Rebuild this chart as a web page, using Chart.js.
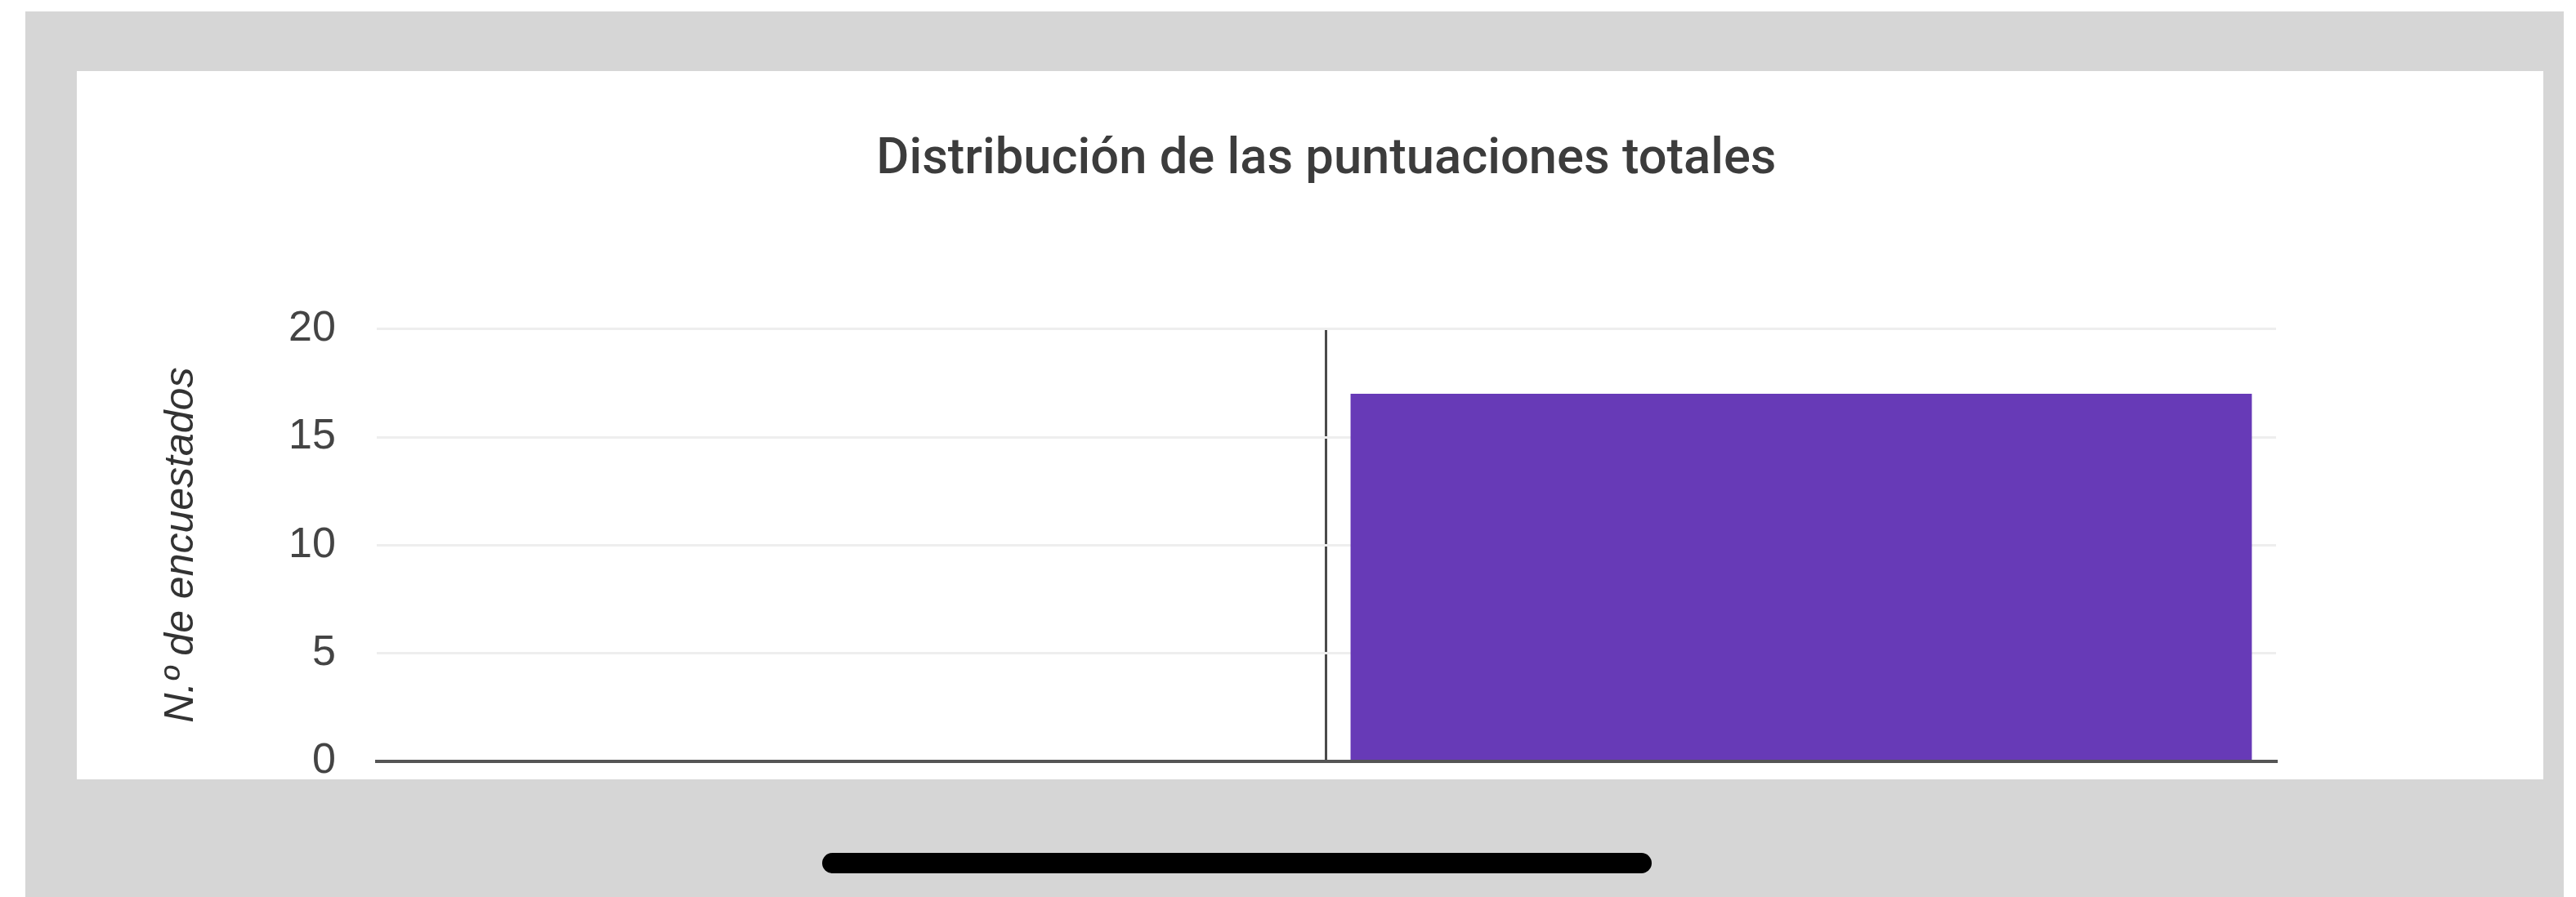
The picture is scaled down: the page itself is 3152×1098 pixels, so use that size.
<!DOCTYPE html>
<html>
<head>
<meta charset="utf-8">
<script src="https://cdn.jsdelivr.net/npm/chart.js@4/dist/chart.umd.min.js"></script>
<style>
    body { margin: 0; width: 3152px; height: 1098px; background: #ffffff; overflow: hidden; position: relative; }
    .frame { position: absolute; left: 31px; top: 14px; width: 3106px; height: 1084px; background: #d6d6d6; }
    .card { position: absolute; left: 94px; top: 87px; width: 3018px; height: 867px; background: #ffffff; }
    /* canvas runs a little past the card so the axis sits near the card's bottom edge */
    #chart { position: absolute; left: 0; top: 0; }
    .home-bar { position: absolute; left: 1006px; top: 1044px; width: 1015px; height: 25px; border-radius: 13px; background: #000000; }
</style>
</head>
<body>
<div class="frame"></div>
<div class="card"><canvas id="chart" width="3018" height="918"></canvas></div>
<div class="home-bar"></div>
<script>
// bins of the histogram (the x labels are not visible in the screenshot)
const bins = ["Intervalo 1", "Intervalo 2"];
const respondents = [0, 17];
const yTicks = [0, 5, 10, 15, 20];

const chartTitle = "Distribución de las puntuaciones totales";
const yTitle = "N.º de encuestados";

var ctx = document.getElementById("chart").getContext("2d");
var myChart = new Chart(ctx, {
    type: "bar",
    data: {
        labels: bins,
        datasets: [
            {
                label: yTitle,
                data: respondents,
                backgroundColor: "#673ab7",
                borderWidth: 0,
                barPercentage: 0.949,
                categoryPercentage: 1,
            },
        ],
    },
    options: {
        responsive: false,
        animation: false,
        devicePixelRatio: 1,
        layout: {
            padding: { left: 94, right: 327, top: 0, bottom: 0 },
        },
        plugins: {
            legend: { display: false },
            tooltip: { enabled: false },
            title: {
                display: true,
                text: chartTitle,
                fullSize: false,
                color: "#3c3c3c",
                font: { family: "Roboto", weight: "500", size: 61.5, lineHeight: 1.2 },
                padding: { top: 73, bottom: 169 },
            },
        },
        scales: {
            x: {
                ticks: { display: false },
                grid: {
                    drawTicks: false,
                    lineWidth: 3,
                    // only the line between the two bins is shown
                    color: function (c) {
                        return c.index === 1 ? "#4a4a4a" : "rgba(0,0,0,0)";
                    },
                },
                border: { display: true, color: "#555555", width: 4 },
            },
            y: {
                min: yTicks[0],
                max: yTicks[yTicks.length - 1],
                afterBuildTicks: function (scale) {
                    scale.ticks = yTicks.map(function (v) { return { value: v }; });
                },
                ticks: {
                    color: "#444444",
                    padding: 50,
                    font: { family: "Liberation Sans", size: 52, lineHeight: 0.9 },
                },
                grid: {
                    drawTicks: false,
                    lineWidth: 3,
                    color: function (c) {
                        return c.tick && c.tick.value === 0 ? "rgba(0,0,0,0)" : "#eeeeee";
                    },
                },
                border: { display: false },
                title: {
                    display: true,
                    text: yTitle,
                    color: "#333333",
                    font: { family: "Liberation Sans", style: "italic", size: 50, lineHeight: 1.2 },
                    padding: { top: 4, bottom: 51 },
                },
            },
        },
    },
});
</script>
</body>
</html>
